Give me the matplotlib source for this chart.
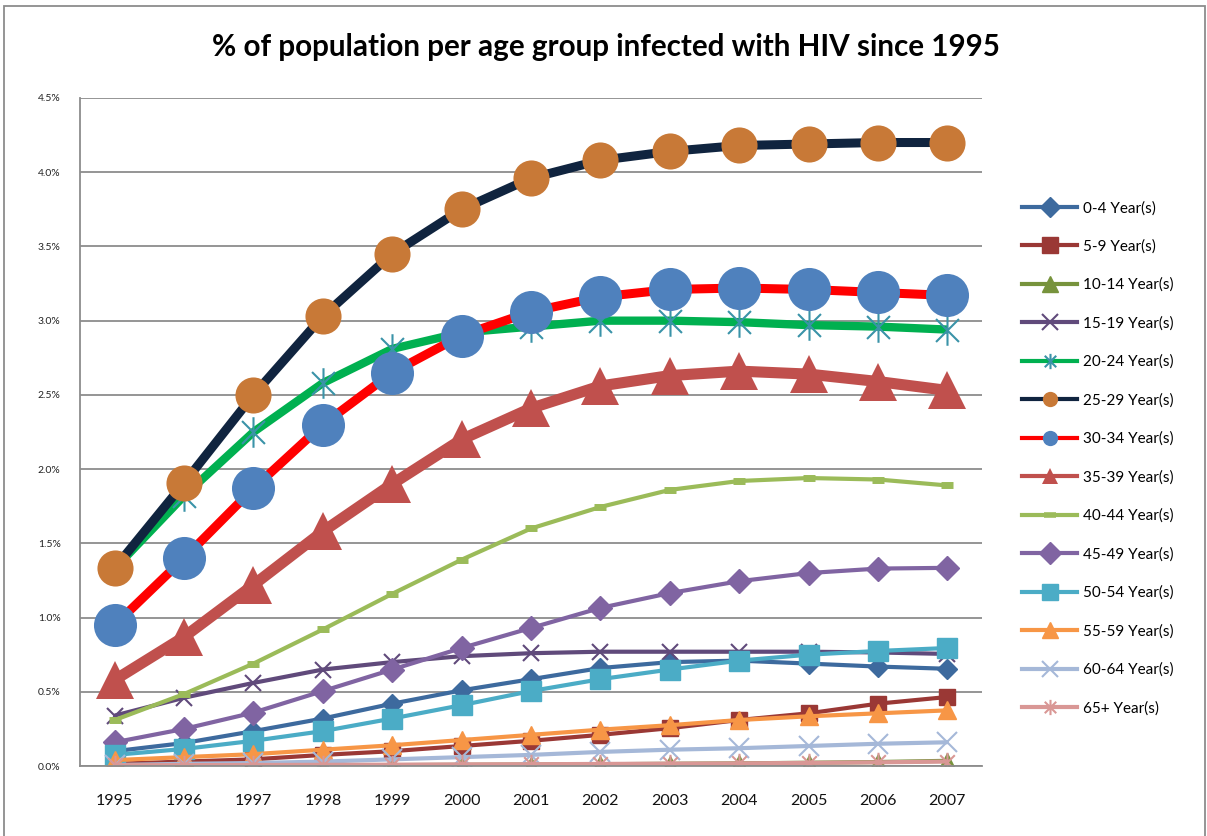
import numpy as np
import matplotlib
matplotlib.use("Agg")
from matplotlib import pyplot as plt
from matplotlib.path import Path
from matplotlib.patches import Rectangle
from matplotlib.ticker import FuncFormatter

plt.rcParams['font.family'] = ['Lato', 'DejaVu Sans']

years = ['1995', '1996', '1997', '1998', '1999', '2000', '2001',
         '2002', '2003', '2004', '2005', '2006', '2007']

labels = ['0-4 Year(s)', '5-9 Year(s)', '10-14 Year(s)', '15-19 Year(s)',
          '20-24 Year(s)', '25-29 Year(s)', '30-34 Year(s)', '35-39 Year(s)',
          '40-44 Year(s)', '45-49 Year(s)', '50-54 Year(s)', '55-59 Year(s)',
          '60-64 Year(s)', '65+ Year(s)']

# values in percent
age_0_4 = [0.10, 0.155, 0.235, 0.32, 0.42, 0.51, 0.585, 0.66, 0.70, 0.71, 0.69, 0.67, 0.655]
age_5_9 = [0.015, 0.03, 0.045, 0.075, 0.10, 0.135, 0.17, 0.21, 0.255, 0.31, 0.355, 0.42, 0.465]
age_10_14 = [0.002, 0.003, 0.004, 0.005, 0.006, 0.008, 0.01, 0.012, 0.015, 0.018, 0.022, 0.027, 0.035]
age_15_19 = [0.34, 0.46, 0.56, 0.65, 0.70, 0.74, 0.76, 0.77, 0.77, 0.77, 0.77, 0.765, 0.755]
age_20_24 = [1.33, 1.82, 2.25, 2.58, 2.81, 2.92, 2.96, 3.00, 3.00, 2.99, 2.97, 2.96, 2.94]
age_25_29 = [1.334, 1.907, 2.50, 3.03, 3.45, 3.75, 3.96, 4.08, 4.14, 4.18, 4.19, 4.20, 4.20]
age_30_34 = [0.95, 1.40, 1.87, 2.30, 2.65, 2.90, 3.06, 3.16, 3.21, 3.22, 3.21, 3.19, 3.17]
age_35_39 = [0.58, 0.87, 1.22, 1.58, 1.90, 2.20, 2.41, 2.56, 2.63, 2.66, 2.64, 2.59, 2.53]
age_40_44 = [0.31, 0.485, 0.69, 0.92, 1.16, 1.39, 1.60, 1.745, 1.86, 1.92, 1.94, 1.93, 1.89]
age_45_49 = [0.16, 0.25, 0.36, 0.505, 0.65, 0.795, 0.93, 1.065, 1.165, 1.245, 1.30, 1.33, 1.335]
age_50_54 = [0.075, 0.115, 0.17, 0.235, 0.32, 0.41, 0.505, 0.585, 0.65, 0.71, 0.75, 0.775, 0.795]
age_55_59 = [0.04, 0.06, 0.08, 0.11, 0.14, 0.175, 0.21, 0.245, 0.275, 0.31, 0.335, 0.355, 0.375]
age_60_64 = [0.007, 0.015, 0.02, 0.03, 0.045, 0.06, 0.075, 0.095, 0.11, 0.12, 0.135, 0.15, 0.16]
age_65_plus = [0.005, 0.006, 0.007, 0.008, 0.009, 0.011, 0.012, 0.014, 0.016, 0.018, 0.021, 0.025, 0.03]

series = [age_0_4, age_5_9, age_10_14, age_15_19, age_20_24, age_25_29, age_30_34,
          age_35_39, age_40_44, age_45_49, age_50_54, age_55_59, age_60_64, age_65_plus]

# excel style asterisk: vertical bar plus an X
star = Path([(0, -1), (0, 1), (-0.75, -0.75), (0.75, 0.75), (-0.75, 0.75), (0.75, -0.75)],
            [Path.MOVETO, Path.LINETO, Path.MOVETO, Path.LINETO, Path.MOVETO, Path.LINETO])

# (line colour, marker, marker face, marker size, line width, marker edge width)
styles = [
    ('#3D6A9E', 'D', '#3D6A9E', 10, 3.0, 1),
    ('#9A3835', 's', '#9A3835', 12, 3.0, 1),
    ('#77933C', '^', '#77933C', 12, 3.0, 1),
    ('#604A7B', 'x', '#604A7B', 12, 3.0, 1.5),
    ('#00B050', star, '#3A93A8', 22, 6.0, 1.5),
    ('#10243F', 'o', '#C87937', 26, 6.5, 0),
    ('#FF0000', 'o', '#4F81BD', 31, 6.5, 0),
    ('#C0504D', '^', '#C0504D', 28, 8.0, 0),
    ('#9BBB59', '_', '#9BBB59', 9, 3.0, 5),
    ('#8064A2', 'D', '#8064A2', 12, 3.0, 1),
    ('#4BACC6', 's', '#4BACC6', 14, 3.0, 1),
    ('#F79646', '^', '#F79646', 13, 3.0, 1),
    ('#A5B8D8', 'x', '#A5B8D8', 14, 3.0, 1.5),
    ('#D99795', star, '#D99795', 14, 3.0, 1.5),
]

fig = plt.figure(figsize=(12.07, 8.36), dpi=100)
ax = fig.add_axes([0.0663, 0.0837, 0.7473, 0.7991])

x = np.arange(len(years))
for vals, lab, (lc, mk, mf, ms, lw, mew) in zip(series, labels, styles):
    v = np.array(vals) / 100.0
    ax.plot(x, v, color=lc, lw=lw, marker=mk, markersize=ms,
            markerfacecolor=mf, markeredgecolor=mf, markeredgewidth=mew,
            solid_joinstyle='round', solid_capstyle='butt', label=lab)

ax.set_xlim(-0.5, len(years) - 0.5)
ax.set_ylim(0, 0.045)
ax.set_yticks(np.arange(0, 0.0451, 0.005))
ax.yaxis.set_major_formatter(FuncFormatter(lambda v, p: '%.1f%%' % (v * 100)))
ax.set_xticks(x)
ax.set_xticklabels(years)
ax.grid(axis='y', color='#8C8C8C', lw=1.3)
ax.set_axisbelow(True)
for s in ['top', 'right']:
    ax.spines[s].set_visible(False)
for s in ['left', 'bottom']:
    ax.spines[s].set_color('#8C8C8C')
    ax.spines[s].set_linewidth(1.3)
ax.tick_params(axis='y', length=0, labelsize=7.5, pad=14, colors='#222222')
ax.tick_params(axis='x', length=0, labelsize=11.5, pad=20, colors='#111111')

# legend handles with smaller markers, like excel
leg_handles = []
for lc, mk, mf, ms, lw, mew in styles:
    h, = ax.plot([], [], color=lc, lw=3, marker=mk, markersize=min(ms, 11) if mk != '_' else 8,
                 markerfacecolor=mf, markeredgecolor=mf, markeredgewidth=mew if mk != '_' else 4)
    leg_handles.append(h)
fig.legend(leg_handles, labels, loc='upper left', bbox_to_anchor=(0.842, 0.767),
           frameon=False, fontsize=11, handlelength=3.6, handletextpad=0.35,
           labelspacing=1.58, borderaxespad=0)

fig.text(0.502, 0.944, '% of population per age group infected with HIV since 1995',
         ha='center', va='center', fontsize=21.3, fontweight='bold')

fig.patches.append(Rectangle((0.0033, -0.01), 0.995, 1.0028, transform=fig.transFigure,
                             fill=False, edgecolor='#8C8C8C', lw=1.3))

fig.savefig('out.png', dpi=100)
